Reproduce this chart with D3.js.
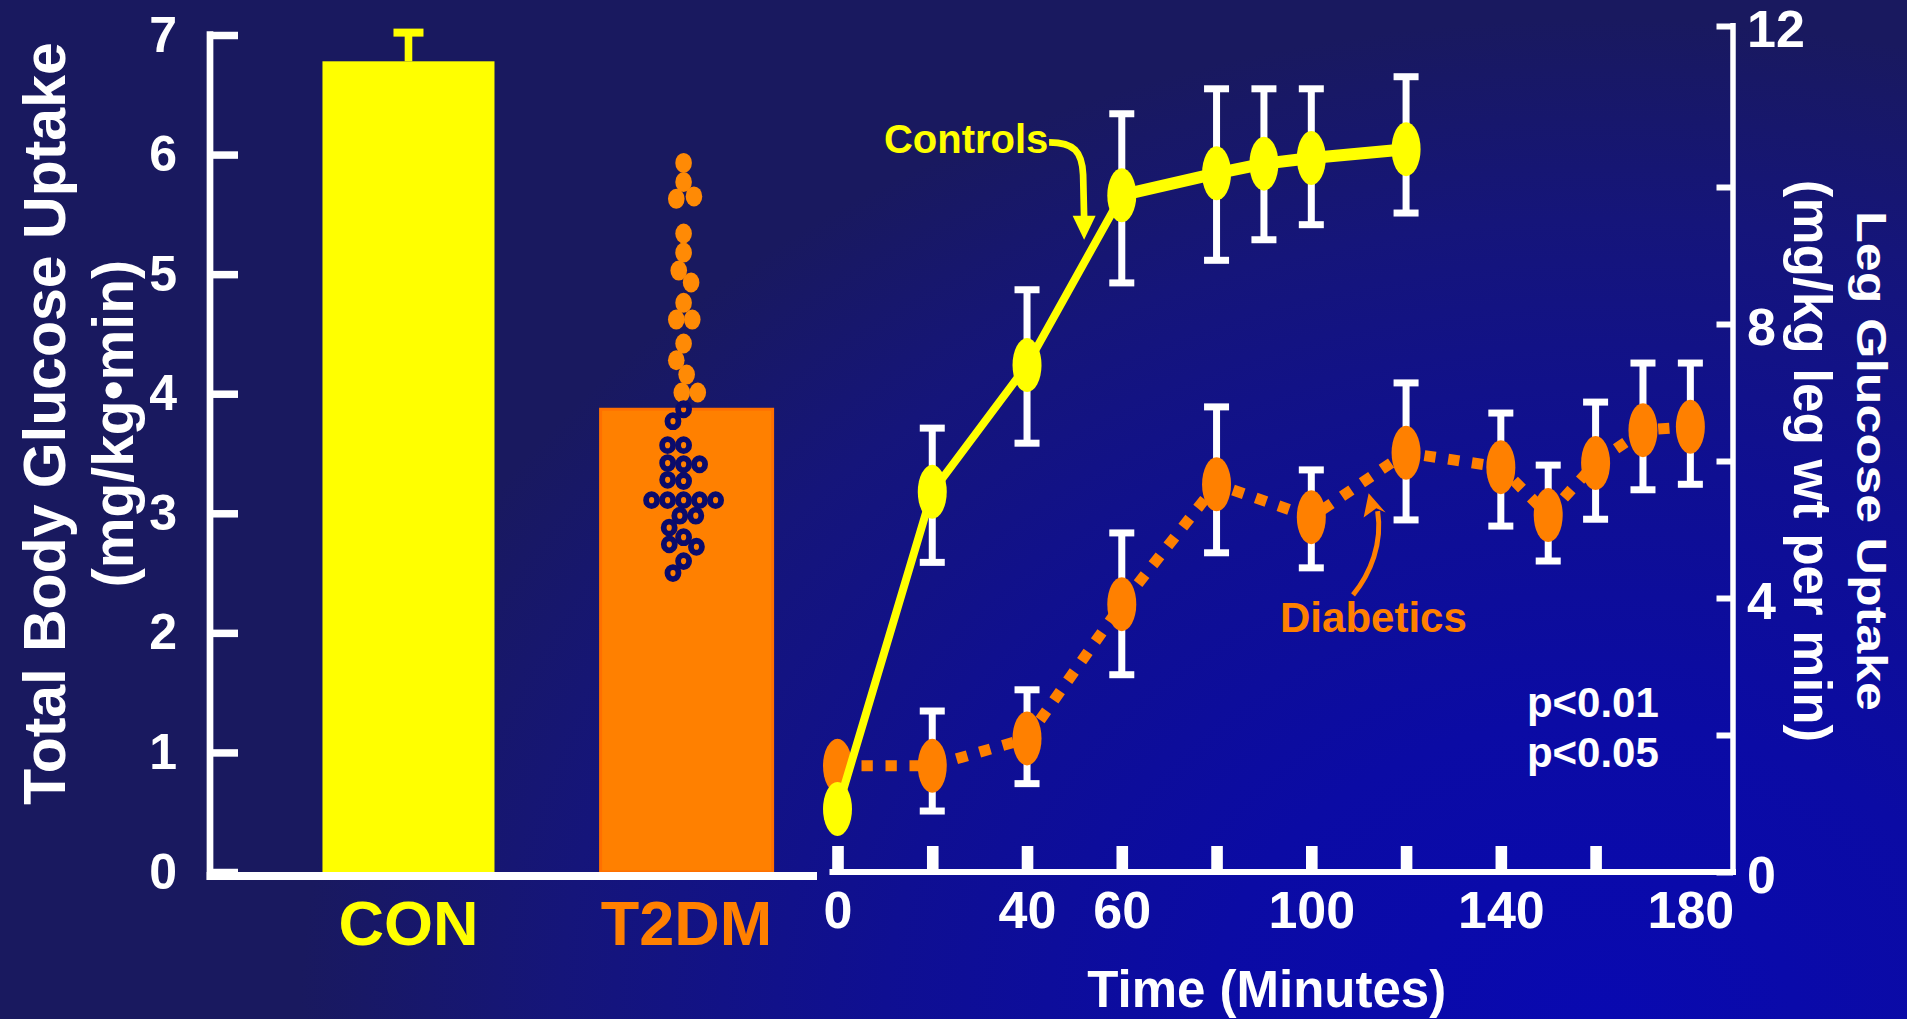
<!DOCTYPE html>
<html>
<head>
<meta charset="utf-8">
<script src="https://cdn.jsdelivr.net/npm/d3@7"></script>
<style>
  html, body { margin: 0; padding: 0; background: #19195f; overflow: hidden; }
  svg { display: block; }
  text { font-family: "Liberation Sans", Arial, Helvetica, sans-serif; font-weight: bold; }
</style>
</head>
<body>
<svg id="chart" width="1907" height="1019"></svg>
<script>
// ---- Total body glucose uptake during the clamp ----
const groups = ["CON", "T2DM"];
const groupMeans = [6.78, 3.87];
const conSem = 0.24;
const leftTicks = [0, 1, 2, 3, 4, 5, 6, 7];
// individual T2DM subjects
const t2dmValues = [
  5.93, 5.77, 5.63, 5.65, 5.34, 5.18, 5.03, 4.93, 4.76, 4.62, 4.62, 4.42, 4.28, 4.16, 4.01, 4.01,
  3.87, 3.77, 3.57, 3.57, 3.41, 3.42, 3.41, 3.27, 3.28, 3.11, 3.11, 3.11, 3.11, 3.11,
  2.98, 2.98, 2.88, 2.80, 2.74, 2.72, 2.60, 2.50
];

// ---- Leg glucose uptake over time ----
const controlTimes = [0, 20, 40, 60, 80, 90, 100, 120];
const controlMeans = [0.92, 5.55, 7.40, 9.88, 10.17, 10.29, 10.36, 10.47];
const controlHi    = [null, 6.48, 8.50, 10.91, 11.22, 11.22, 11.22, 11.37];
const controlLo    = [null, 4.52, 6.26, 8.60, 8.93, 9.23, 9.45, 9.62];

const diabeticTimes = [0, 20, 40, 60, 80, 100, 120, 140, 150, 160, 170, 180];
const diabeticMeans = [1.55, 1.55, 1.95, 3.91, 5.66, 5.18, 6.12, 5.91, 5.21, 5.97, 6.45, 6.50];
const diabeticHi    = [null, 2.35, 2.66, 4.95, 6.79, 5.87, 7.14, 6.70, 5.94, 6.86, 7.43, 7.43];
const diabeticLo    = [null, 0.89, 1.29, 2.88, 4.66, 4.44, 5.14, 5.05, 4.54, 5.15, 5.58, 5.66];

const timeTicks = [0, 20, 40, 60, 80, 100, 120, 140, 160];
const timeLabels = [0, 40, 60, 100, 140, 180];
const rightTicks = [0, 2, 4, 6, 8, 10, 12];
const rightLabels = [0, 4, 8, 12];

const YELLOW = "#ffff00", ORANGE = "#ff8000", NAVY = "#0b0b6b", WHITE = "#ffffff";
const FONT = "'Liberation Sans', Arial, sans-serif";

const svg = d3.select("#chart");

// background: dark navy brightening towards the lower right
const defs = svg.append("defs");
const grad = defs.append("radialGradient").attr("id", "bg")
  .attr("gradientUnits", "userSpaceOnUse")
  .attr("cx", 1600).attr("cy", 1019).attr("r", 1000)
  .attr("gradientTransform", "translate(1600,1019) scale(1.3,1) translate(-1600,-1019)");
[[0, "#0909b0"], [0.3, "#0b0ba4"], [0.55, "#0f0f92"], [0.8, "#15157a"], [1, "#19195f"]]
  .forEach(([o, c]) => grad.append("stop").attr("offset", o).attr("stop-color", c));
svg.append("rect").attr("width", 1907).attr("height", 1019).attr("fill", "url(#bg)");

// ================= left panel: bar chart =================
const yL = d3.scaleLinear().domain([0, 7]).range([872, 35]);
const xL = d3.scaleBand().domain(groups).range([210, 817])
  .paddingInner(0.3815).paddingOuter(0.282).align(0.717);

const left = svg.append("g");

// bars
const barFill = { CON: YELLOW, T2DM: ORANGE };
left.selectAll("rect.bar").data(groups).join("rect")
  .attr("class", "bar")
  .attr("x", d => xL(d))
  .attr("width", xL.bandwidth())
  .attr("y", (d, i) => yL(groupMeans[i]))
  .attr("height", (d, i) => yL(0) - yL(groupMeans[i]))
  .attr("fill", d => barFill[d])
  .attr("stroke", d => d === "T2DM" ? "#ff7000" : "none")
  .attr("stroke-width", 3);

// CON error bar
{
  const cx = xL("CON") + xL.bandwidth() / 2;
  const top = groupMeans[0] + conSem;
  left.append("line").attr("x1", cx).attr("x2", cx)
    .attr("y1", yL(groupMeans[0])).attr("y2", yL(top))
    .attr("stroke", YELLOW).attr("stroke-width", 7.6);
  left.append("rect").attr("x", cx - 15).attr("width", 30)
    .attr("y", yL(top) - 4).attr("height", 8).attr("fill", YELLOW);
}

// beeswarm placement of the individual T2DM values
// (ky < 1 weights vertical separation less, for markers taller than wide)
function dodge(values, yScale, cx, d, ky) {
  const placed = [];
  return values.map(v => {
    const y = yScale(v);
    const near = placed.filter(p => Math.abs(p.y - y) * ky < d);
    const cands = [0];
    near.forEach(p => {
      const dx = Math.sqrt(d * d - ((p.y - y) * ky) ** 2);
      cands.push(p.x + dx, p.x - dx);
    });
    cands.sort((a, b) => Math.abs(a) - Math.abs(b) || a - b);
    const x = cands.find(c => near.every(p => (p.x - c) ** 2 + ((p.y - y) * ky) ** 2 >= d * d - 1e-6));
    placed.push({ x, y });
    return { v, x: cx + x, y };
  });
}
const t2dmMean = groupMeans[1];
const swarmCx = xL("T2DM") + xL.bandwidth() / 2 - 3;
const aboveMean = dodge(t2dmValues.filter(v => v > t2dmMean), yL, swarmCx, 16, 0.85);
const withinBar = dodge(t2dmValues.filter(v => v <= t2dmMean), yL, swarmCx, 16, 1);
left.selectAll("ellipse.above").data(aboveMean).join("ellipse")
  .attr("class", "above")
  .attr("cx", p => p.x).attr("cy", p => p.y)
  .attr("rx", 8.3).attr("ry", 10).attr("fill", "#ff8a05");
left.selectAll("ellipse.within").data(withinBar).join("ellipse")
  .attr("class", "within")
  .attr("cx", p => p.x).attr("cy", p => p.y)
  .attr("rx", 5.5).attr("ry", 6).attr("fill", "none")
  .attr("stroke", NAVY).attr("stroke-width", 5.8);

// left axis
const axL = left.append("g").attr("transform", `translate(${xL.range()[0]},0)`)
  .call(d3.axisLeft(yL).tickValues(leftTicks).tickFormat(d3.format("d"))
    .tickSizeInner(-28).tickSizeOuter(0).tickPadding(33));
axL.select(".domain").remove();
axL.selectAll(".tick line").attr("stroke", WHITE).attr("stroke-width", 7.5);
axL.selectAll(".tick text").attr("fill", WHITE).style("font-size", "50px")
  .style("font-family", FONT).style("font-weight", "bold");
left.append("line")
  .attr("x1", xL.range()[0]).attr("x2", xL.range()[0])
  .attr("y1", yL(7) - 3.75).attr("y2", yL(0) + 8)
  .attr("stroke", WHITE).attr("stroke-width", 6.7);
left.append("line")
  .attr("x1", xL.range()[0] - 3.35).attr("x2", xL.range()[1])
  .attr("y1", yL(0) + 4).attr("y2", yL(0) + 4)
  .attr("stroke", WHITE).attr("stroke-width", 8);

// category labels
left.selectAll("text.cat").data(groups).join("text")
  .attr("class", "cat")
  .attr("x", d => xL(d) + xL.bandwidth() / 2)
  .attr("y", yL(0) + 73)
  .attr("text-anchor", "middle")
  .attr("fill", d => d === "CON" ? YELLOW : ORANGE)
  .style("font-size", "63px")
  .text(d => d);

// left axis title
const midL = yL(3.75);
left.append("text")
  .attr("transform", `translate(65,${midL}) rotate(-90)`)
  .attr("text-anchor", "middle").attr("fill", WHITE).style("font-size", "59px")
  .text("Total Body Glucose Uptake");
left.append("text")
  .attr("transform", `translate(133,${midL}) rotate(-90)`)
  .attr("text-anchor", "middle").attr("fill", WHITE).style("font-size", "57px")
  .text("(mg/kg\u2022min)");

// ================= right panel: time course =================
const xR = d3.scaleLinear().domain([0, 189]).range([837.5, 1733]);
const yR = d3.scaleLinear().domain([0, 10, 12]).range([872, 187, 26]);

const right = svg.append("g");

// axes
right.append("line")
  .attr("x1", xR(0) - 8).attr("x2", xR(189) + 3)
  .attr("y1", yR(0)).attr("y2", yR(0))
  .attr("stroke", WHITE).attr("stroke-width", 6);
right.append("line")
  .attr("x1", xR(189)).attr("x2", xR(189))
  .attr("y1", yR(12) - 3).attr("y2", yR(0) + 3)
  .attr("stroke", WHITE).attr("stroke-width", 5.5);

const axTicks = right.append("g").attr("transform", `translate(0,${yR(0) - 3})`)
  .call(d3.axisBottom(xR).tickValues(timeTicks).tickSizeInner(-23).tickSizeOuter(0).tickFormat(""));
axTicks.select(".domain").remove();
axTicks.selectAll(".tick line").attr("stroke", WHITE).attr("stroke-width", 11.6);

const axLabels = right.append("g").attr("transform", `translate(0,${yR(0)})`)
  .call(d3.axisBottom(xR).tickValues(timeLabels).tickSize(0).tickPadding(19));
axLabels.select(".domain").remove();
axLabels.selectAll(".tick text").attr("fill", WHITE).style("font-size", "52px")
  .style("font-family", FONT).style("font-weight", "bold");

const axR = right.append("g").attr("transform", `translate(${xR(189)},0)`)
  .call(d3.axisRight(yR).tickValues(rightTicks).tickSizeInner(-16.5).tickSizeOuter(0).tickPadding(14)
    .tickFormat(d => rightLabels.includes(d) ? d : ""));
axR.select(".domain").remove();
axR.selectAll(".tick line").attr("stroke", WHITE).attr("stroke-width", 6);
axR.selectAll(".tick text").attr("fill", WHITE).attr("dy", "0.4em").style("font-size", "52px")
  .style("font-family", FONT).style("font-weight", "bold");

// error bars
function errorBars(times, hi, lo) {
  const pts = times.map((t, i) => ({ t, hi: hi[i], lo: lo[i] })).filter(p => p.hi != null);
  const g = right.append("g");
  g.selectAll("line").data(pts).join("line")
    .attr("x1", p => xR(p.t)).attr("x2", p => xR(p.t))
    .attr("y1", p => yR(p.hi)).attr("y2", p => yR(p.lo))
    .attr("stroke", WHITE).attr("stroke-width", 7);
  g.selectAll("rect.hi").data(pts).join("rect").attr("class", "hi")
    .attr("x", p => xR(p.t) - 12.5).attr("width", 25)
    .attr("y", p => yR(p.hi) - 3.5).attr("height", 7).attr("fill", WHITE);
  g.selectAll("rect.lo").data(pts).join("rect").attr("class", "lo")
    .attr("x", p => xR(p.t) - 12.5).attr("width", 25)
    .attr("y", p => yR(p.lo) - 3.5).attr("height", 7).attr("fill", WHITE);
}
errorBars(controlTimes, controlHi, controlLo);
errorBars(diabeticTimes, diabeticHi, diabeticLo);

const line = d3.line().x(d => xR(d[0])).y(d => yR(d[1]));

// diabetics: dotted line + markers
const diabPts = diabeticTimes.map((t, i) => [t, diabeticMeans[i]]);
right.append("path").attr("d", line(diabPts))
  .attr("fill", "none").attr("stroke", ORANGE).attr("stroke-width", 11)
  .attr("stroke-dasharray", "11.3 12.7").attr("stroke-linecap", "butt");
right.selectAll("ellipse.diab").data(diabPts).join("ellipse").attr("class", "diab")
  .attr("cx", d => xR(d[0])).attr("cy", d => yR(d[1]))
  .attr("rx", 14.5).attr("ry", 27).attr("fill", ORANGE);

// controls: solid line (rising phase thinner, plateau heavier) + markers
const ctrlPts = controlTimes.map((t, i) => [t, controlMeans[i]]);
right.append("path").attr("d", line(ctrlPts.filter(d => d[0] <= 60)))
  .attr("fill", "none").attr("stroke", YELLOW).attr("stroke-width", 8).attr("stroke-linejoin", "round");
right.append("path").attr("d", line(ctrlPts.filter(d => d[0] >= 60)))
  .attr("fill", "none").attr("stroke", YELLOW).attr("stroke-width", 12).attr("stroke-linejoin", "round");
right.selectAll("ellipse.ctrl").data(ctrlPts).join("ellipse").attr("class", "ctrl")
  .attr("cx", d => xR(d[0])).attr("cy", d => yR(d[1]))
  .attr("rx", 14.5).attr("ry", 27).attr("fill", YELLOW);

// group annotations with arrows
right.append("text")
  .attr("x", xR(9.8)).attr("y", yR(10.42))
  .attr("fill", YELLOW).style("font-size", "40px").text("Controls");
{
  const tx = xR(52.05), ty = yR(9.23);
  const g = right.append("g").attr("transform", `translate(${tx},${ty})`);
  g.append("path").attr("d", "M-35,-97.3 C-10,-97.3 -2,-88 -1,-65 L0,-22")
    .attr("fill", "none").attr("stroke", YELLOW).attr("stroke-width", 6.7);
  g.append("path").attr("d", "M-11.5,-24 L11.5,-24 L0,0 Z").attr("fill", YELLOW);
}

right.append("text")
  .attr("x", xR(93.4)).attr("y", yR(3.50))
  .attr("fill", ORANGE).style("font-size", "42px").text("Diabetics");
{
  const tx = xR(112.1), ty = yR(5.53);
  const g = right.append("g").attr("transform", `translate(${tx},${ty})`);
  g.append("path").attr("d", "M-15.6,101.7 C2,80 14,50 9,18")
    .attr("fill", "none").attr("stroke", ORANGE).attr("stroke-width", 5);
  g.append("path").attr("d", "M0,0 L17,19.4 L7.7,15 L-5,24.4 Z").attr("fill", ORANGE);
}

// significance notes
right.append("text").attr("x", xR(145.5)).attr("y", yR(2.27))
  .attr("fill", WHITE).style("font-size", "42px").text("p<0.01");
right.append("text").attr("x", xR(145.5)).attr("y", yR(1.53))
  .attr("fill", WHITE).style("font-size", "42px").text("p<0.05");

// axis titles
right.append("text")
  .attr("x", xR(90.6)).attr("y", yR(0) + 135)
  .attr("text-anchor", "middle").attr("fill", WHITE).style("font-size", "51px")
  .text("Time (Minutes)");

const midR = 461;
right.append("text")
  .attr("transform", `translate(1857,${midR}) rotate(90) scale(1,0.8)`)
  .attr("text-anchor", "middle").attr("fill", WHITE).style("font-size", "52px")
  .text("Leg Glucose Uptake");
right.append("text")
  .attr("transform", `translate(1794,${midR}) rotate(90)`)
  .attr("text-anchor", "middle").attr("fill", WHITE).style("font-size", "53px")
  .text("(mg/kg leg wt per min)");
</script>
</body>
</html>
